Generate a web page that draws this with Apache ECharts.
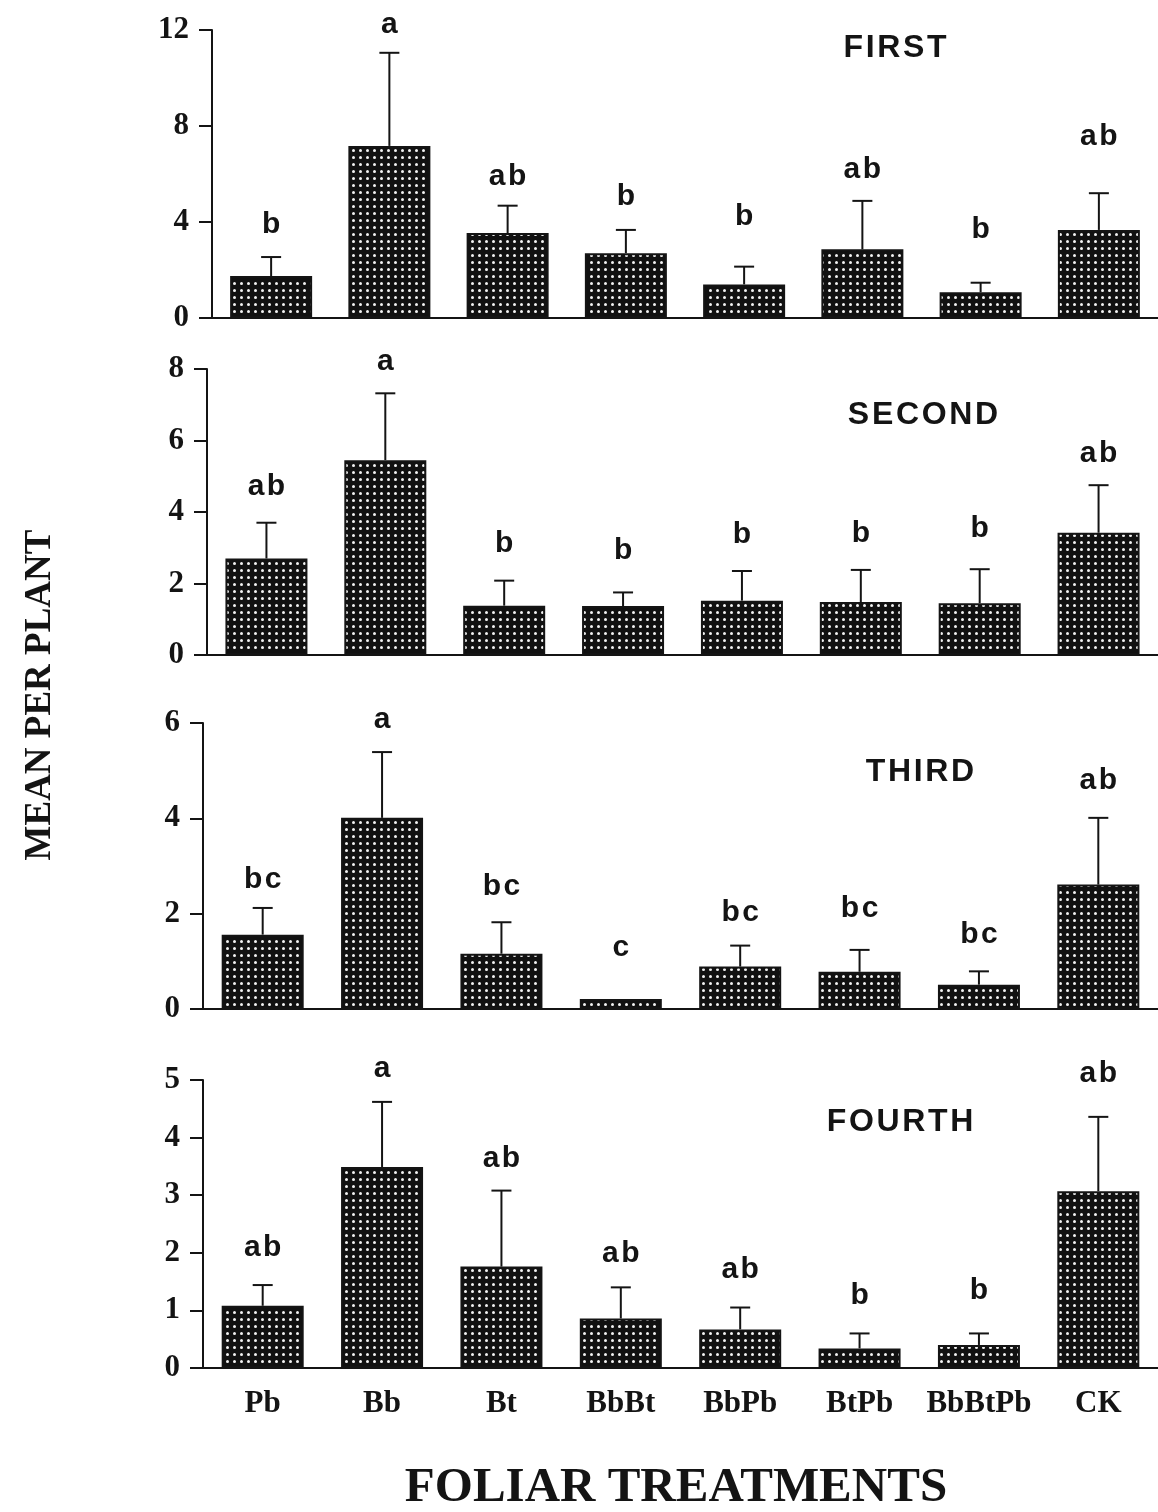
<!DOCTYPE html>
<html>
<head>
<meta charset="utf-8">
<script src="https://cdn.jsdelivr.net/npm/echarts@6/dist/echarts.min.js"></script>
<style>
html,body{margin:0;padding:0;background:#fff;}
#chart{width:1158px;height:1512px;}
</style>
</head>
<body>
<div id="chart"></div>
<script>
// ---- data ----
const categories = ['Pb', 'Bb', 'Bt', 'BbBt', 'BbPb', 'BtPb', 'BbBtPb', 'CK'];

const panelNames = ['FIRST', 'SECOND', 'THIRD', 'FOURTH'];

const firstMean   = [1.75, 7.17, 3.54, 2.70, 1.40, 2.86, 1.07, 3.67];
const firstUpper  = [2.54, 11.05, 4.68, 3.67, 2.14, 4.88, 1.47, 5.20];
const firstLetters = ['b', 'a', 'ab', 'b', 'b', 'ab', 'b', 'ab'];
const firstLetterAt = [3.88, 12.2, 5.88, 5.04, 4.2, 6.17, 3.67, 7.54];

const secondMean  = [2.70, 5.45, 1.38, 1.37, 1.52, 1.48, 1.45, 3.42];
const secondUpper = [3.70, 7.32, 2.08, 1.75, 2.35, 2.38, 2.40, 4.75];
const secondLetters = ['ab', 'a', 'b', 'b', 'b', 'b', 'b', 'ab'];
const secondLetterAt = [4.71, 8.2, 3.1, 2.92, 3.36, 3.38, 3.54, 5.64];

const thirdMean   = [1.56, 4.01, 1.16, 0.21, 0.89, 0.78, 0.51, 2.61];
const thirdUpper  = [2.12, 5.39, 1.82, null, 1.33, 1.24, 0.79, 4.01];
const thirdLetters = ['bc', 'a', 'bc', 'c', 'bc', 'bc', 'bc', 'ab'];
const thirdLetterAt = [2.71, 6.07, 2.57, 1.28, 2.01, 2.10, 1.56, 4.78];

const fourthMean  = [1.08, 3.49, 1.76, 0.86, 0.67, 0.34, 0.40, 3.07];
const fourthUpper = [1.44, 4.62, 3.08, 1.40, 1.05, 0.60, 0.60, 4.36];
const fourthLetters = ['ab', 'a', 'ab', 'ab', 'ab', 'b', 'b', 'ab'];
const fourthLetterAt = [2.08, 5.2, 3.64, 1.99, 1.70, 1.26, 1.35, 5.11];

const yMax = [12, 8, 6, 5];
const yStep = [4, 2, 2, 1];

// ---- build ----
const means = [firstMean, secondMean, thirdMean, fourthMean];
const uppers = [firstUpper, secondUpper, thirdUpper, fourthUpper];
const letters = [firstLetters, secondLetters, thirdLetters, fourthLetters];
const letterAts = [firstLetterAt, secondLetterAt, thirdLetterAt, fourthLetterAt];

const gridLayout = [
  {left: 212, top: 30, height: 288},
  {left: 207, top: 369, height: 286},
  {left: 203, top: 723, height: 286},
  {left: 203, top: 1080, height: 288}
];
const titlePos = [[895, 48], [923, 415], [920, 772], [900, 1122]];

const ink = '#141414';

// dotted pattern
const pc = document.createElement('canvas');
pc.width = 7; pc.height = 7;
const pctx = pc.getContext('2d');
pctx.fillStyle = '#111';
pctx.fillRect(0, 0, 7, 7);
pctx.fillStyle = '#f2f2f2';
pctx.beginPath();
pctx.arc(3.5, 3.5, 1.5, 0, Math.PI * 2);
pctx.fill();

const grids = [], xAxes = [], yAxes = [], series = [], graphics = [];

for (let k = 0; k < 4; k++) {
  grids.push({left: gridLayout[k].left, top: gridLayout[k].top, width: 956, height: gridLayout[k].height});
  const last = k === 3;
  xAxes.push({
    type: 'category', gridIndex: k, data: categories, boundaryGap: true,
    axisLine: {lineStyle: {color: ink, width: 2}},
    axisTick: {show: false},
    axisLabel: {show: last, interval: 0, color: ink, fontFamily: 'Liberation Serif', fontWeight: 'bold', fontSize: 31, margin: 20}
  });
  yAxes.push({
    type: 'value', gridIndex: k, min: 0, max: yMax[k], interval: yStep[k],
    splitLine: {show: false},
    axisLine: {show: true, lineStyle: {color: ink, width: 2}},
    axisTick: {show: true, inside: false, length: 13, lineStyle: {color: ink, width: 2}},
    axisLabel: {color: ink, fontFamily: 'Liberation Serif', fontWeight: 'bold', fontSize: 31, margin: 23}
  });
  series.push({
    type: 'bar', xAxisIndex: k, yAxisIndex: k, data: means[k], barWidth: 82,
    itemStyle: {color: {image: pc, repeat: 'repeat'}, borderColor: ink, borderWidth: 2},
    z: 2
  });
  const errData = [];
  means[k].forEach((m, i) => { if (uppers[k][i] != null) errData.push([i, m, uppers[k][i]]); });
  series.push({
    type: 'custom', xAxisIndex: k, yAxisIndex: k, data: errData, z: 3,
    renderItem: function (params, api) {
      const b = api.coord([api.value(0), api.value(1)]);
      const t = api.coord([api.value(0), api.value(2)]);
      return {type: 'group', children: [
        {type: 'line', shape: {x1: b[0], y1: b[1], x2: b[0], y2: t[1]}, style: {stroke: ink, lineWidth: 2}},
        {type: 'line', shape: {x1: b[0] - 10, y1: t[1], x2: b[0] + 10, y2: t[1]}, style: {stroke: ink, lineWidth: 2}}
      ]};
    }
  });
  const lab = letters[k];
  series.push({
    type: 'custom', xAxisIndex: k, yAxisIndex: k, z: 4,
    data: letterAts[k].map((v, i) => [i, v]),
    renderItem: function (params, api) {
      const p = api.coord([api.value(0), api.value(1)]);
      return {type: 'text', x: p[0], y: p[1], style: {
        text: lab[params.dataIndex].split('').join('\u200A'),
        fontFamily: 'Liberation Sans', fontWeight: 'bold', fontSize: 30,
        textAlign: 'center', textVerticalAlign: 'middle', fill: ink
      }};
    }
  });
  graphics.push({
    type: 'text', x: titlePos[k][0], y: titlePos[k][1],
    style: {text: panelNames[k].split('').join('\u200A'), fontFamily: 'Liberation Sans', fontWeight: 'bold', fontSize: 32,
      textAlign: 'center', textVerticalAlign: 'middle', fill: ink}
  });
}

graphics.push({
  type: 'text', x: 40, y: 695, rotation: Math.PI / 2,
  style: {text: 'MEAN PER PLANT', fontFamily: 'Liberation Serif', fontWeight: 'bold', fontSize: 37,
    textAlign: 'center', textVerticalAlign: 'middle', fill: ink}
});
graphics.push({
  type: 'text', x: 676, y: 1488,
  style: {text: 'FOLIAR TREATMENTS', fontFamily: 'Liberation Serif', fontWeight: 'bold', fontSize: 49,
    textAlign: 'center', textVerticalAlign: 'middle', fill: ink}
});

const chart = echarts.init(document.getElementById('chart'), null, {renderer: 'canvas'});
chart.setOption({
  backgroundColor: '#ffffff',
  animation: false,
  grid: grids, xAxis: xAxes, yAxis: yAxes, series: series,
  graphic: graphics
});
</script>
</body>
</html>
